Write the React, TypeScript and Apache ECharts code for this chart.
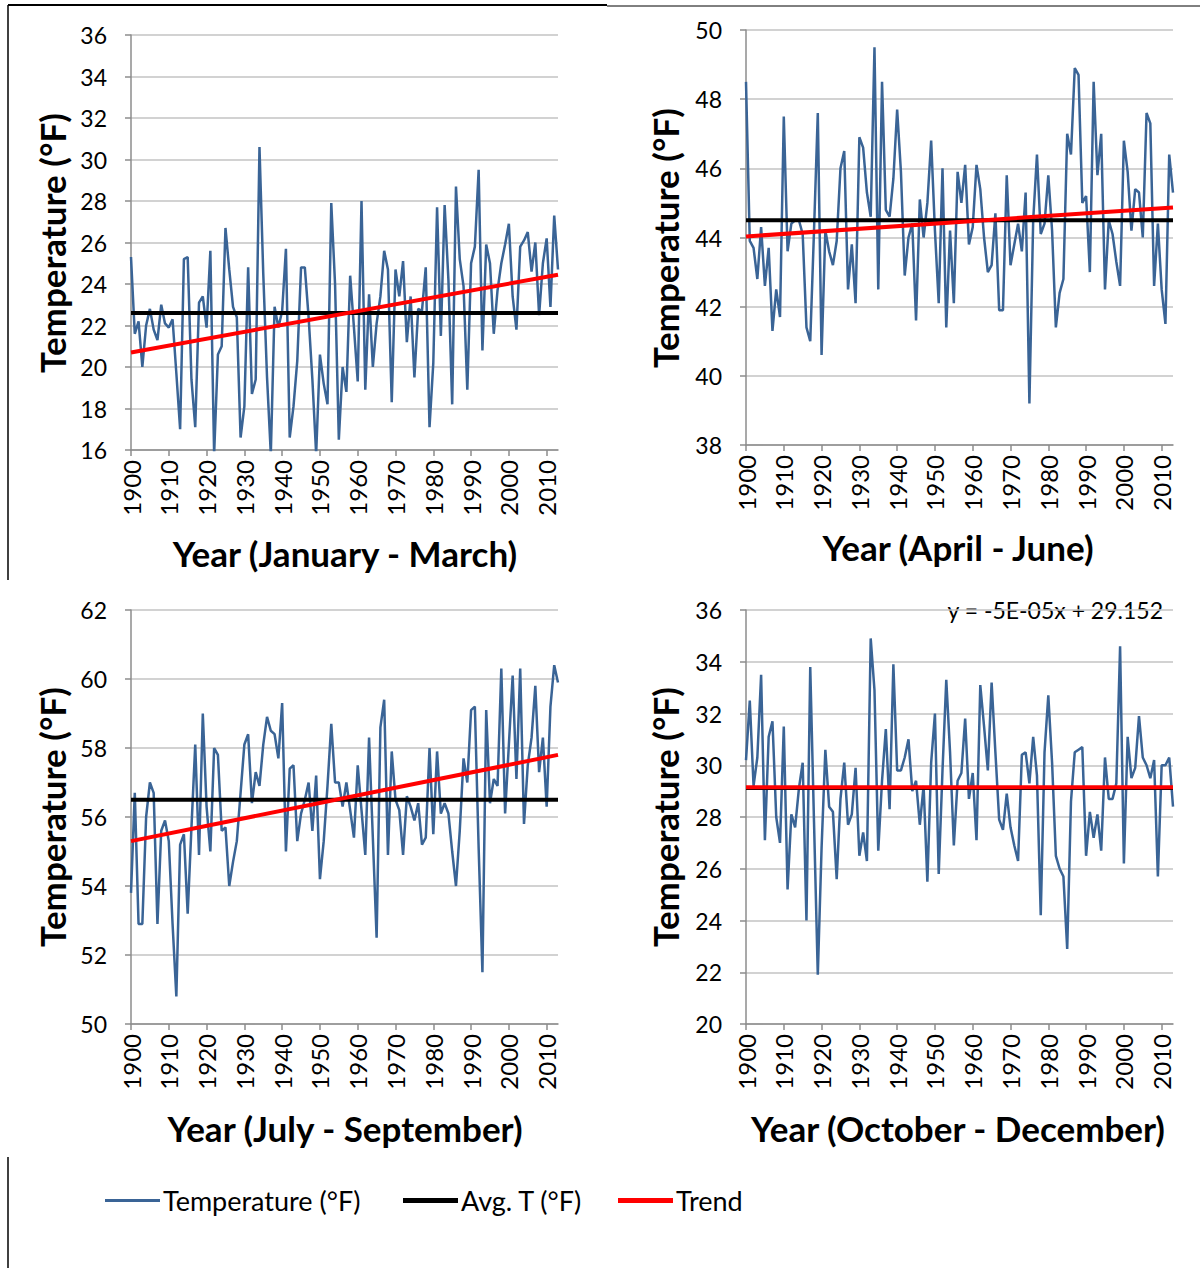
import React, { useEffect, useRef } from "react";
import * as echarts from "echarts";

const years: string[] = Array.from({ length: 114 }, (_, i) => String(1900 + i));

const janMar = [
  25.3, 21.6, 22.2, 20.0, 22.0, 22.8, 21.8, 21.3, 23.0, 22.1,
  21.9, 22.3, 19.7, 17.0, 25.2, 25.3, 19.4, 17.1, 23.1, 23.4,
  21.9, 25.6, 15.8, 20.6, 21.0, 26.7, 24.7, 22.9, 22.4, 16.6,
  18.1, 24.8, 18.7, 19.4, 30.6, 24.5, 19.5, 15.8, 22.9, 21.9,
  22.7, 25.7, 16.6, 18.1, 20.3, 24.8, 24.8, 22.4, 19.4, 15.8,
  20.6, 19.2, 18.2, 27.9, 24.0, 16.5, 20.0, 18.8, 24.4, 21.9,
  19.3, 28.0, 18.9, 23.5, 20.0, 22.1, 23.4, 25.6, 24.7, 18.3,
  24.7, 23.4, 25.1, 21.2, 23.4, 19.5, 22.8, 22.7, 24.8, 17.1,
  20.2, 27.7, 21.5, 27.8, 24.2, 18.2, 28.7, 25.2, 23.9, 18.9,
  25.0, 25.8, 29.5, 20.8, 25.9, 25.0, 21.6, 23.7, 25.0, 25.9,
  26.9, 23.4, 21.8, 25.8, 26.1, 26.5, 24.6, 26.0, 22.5, 25.0,
  26.2, 22.9, 27.3, 24.7,
];

const aprJun = [
  48.5, 43.9, 43.7, 42.8, 44.3, 42.6, 43.7, 41.3, 42.5, 41.7,
  47.5, 43.6, 44.4, 44.5, 44.5, 44.1, 41.4, 41.0, 44.2, 47.6,
  40.6, 44.2, 43.6, 43.2, 43.9, 46.0, 46.5, 42.5, 43.8, 42.1,
  46.9, 46.6, 45.3, 44.6, 49.5, 42.5, 48.5, 44.8, 44.6, 45.7,
  47.7, 45.9, 42.9, 44.0, 44.4, 41.6, 45.1, 44.0, 45.0, 46.8,
  44.2, 42.1, 46.0, 41.4, 44.2, 42.1, 45.9, 45.0, 46.1, 43.8,
  44.3, 46.1, 45.4, 44.0, 43.0, 43.2, 44.7, 41.9, 41.9, 45.8,
  43.2, 43.8, 44.4, 43.6, 45.3, 39.2, 44.5, 46.4, 44.1, 44.4,
  45.8, 44.2, 41.4, 42.4, 42.8, 47.0, 46.4, 48.9, 48.7, 45.0,
  45.2, 43.0, 48.5, 45.8, 47.0, 42.5, 44.5, 44.1, 43.3, 42.6,
  46.8, 45.9, 44.2, 45.4, 45.3, 44.0, 47.6, 47.3, 42.6, 44.4,
  42.5, 41.5, 46.4, 45.3,
];

const julSep = [
  53.8, 56.7, 52.9, 52.9, 56.0, 57.0, 56.7, 52.9, 55.6, 55.9,
  55.3, 52.9, 50.8, 55.2, 55.5, 53.2, 55.7, 58.1, 54.9, 59.0,
  56.3, 55.0, 58.0, 57.8, 55.6, 55.7, 54.0, 54.7, 55.3, 56.7,
  58.1, 58.4, 56.4, 57.3, 56.9, 58.1, 58.9, 58.5, 58.4, 57.7,
  59.3, 55.0, 57.4, 57.5, 55.3, 56.1, 56.5, 57.0, 55.6, 57.2,
  54.2, 55.3, 56.9, 58.7, 57.0, 57.0, 56.3, 57.0, 56.2, 55.4,
  57.5, 56.2, 54.9, 58.3, 55.4, 52.5, 58.6, 59.4, 54.9, 57.9,
  56.5, 56.2, 54.9, 56.6, 56.3, 55.9, 56.4, 55.2, 55.4, 58.0,
  55.5, 57.9, 56.1, 56.4, 56.1, 55.0, 54.0, 55.6, 57.7, 57.0,
  59.1, 59.2, 55.1, 51.5, 59.1, 56.4, 57.1, 56.9, 60.3, 56.1,
  58.1, 60.1, 57.1, 60.3, 55.8, 57.5, 58.3, 59.8, 57.3, 58.3,
  56.3, 59.2, 60.4, 59.9,
];

const octDec = [
  30.2, 32.5, 29.2, 30.3, 33.5, 27.1, 31.1, 31.7, 28.0, 27.0,
  31.5, 25.2, 28.1, 27.6, 29.1, 30.1, 24.0, 33.8, 27.8, 21.9,
  26.8, 30.6, 28.4, 28.2, 25.6, 28.7, 30.1, 27.7, 28.1, 29.9,
  26.5, 27.4, 26.3, 34.9, 32.9, 26.7, 29.4, 31.4, 28.3, 33.9,
  29.8, 29.8, 30.3, 31.0, 29.0, 29.4, 27.7, 29.2, 25.5, 30.1,
  32.0, 25.8, 29.8, 33.3, 30.5, 26.9, 29.4, 29.7, 31.8, 28.7,
  29.7, 27.1, 33.1, 31.5, 29.8, 33.2, 30.5, 27.9, 27.5, 28.9,
  27.6, 26.9, 26.3, 30.4, 30.5, 29.3, 31.1, 29.6, 24.2, 30.5,
  32.7, 30.1, 26.5, 26.0, 25.7, 22.9, 28.6, 30.5, 30.6, 30.7,
  26.5, 28.2, 27.2, 28.1, 26.7, 30.3, 28.7, 28.7, 29.3, 34.6,
  26.2, 31.1, 29.5, 29.9, 31.9, 30.3, 30.0, 29.5, 30.2, 25.7,
  30.0, 30.0, 30.3, 28.4,
];

const seasonData = [janMar, aprJun, julSep, octDec];
const avgValues = [22.6, 44.5, 56.5, 29.12];
const trendStart = [20.7, 44.03, 55.3, 29.152];
const trendEnd = [24.45, 44.87, 57.8, 29.146];
const yMins = [16, 38, 50, 20];
const yMaxs = [36, 50, 62, 36];
const xTitles = [
  "Year (January - March)",
  "Year (April - June)",
  "Year (July - September)",
  "Year (October - December)",
];
const yTitle = "Temperature (°F)";
const equationText = "y = -5E-05x + 29.152";
const seriesNames = ["Temperature (°F)", "Avg. T (°F)", "Trend"];

const FONT = "Lato, 'Noto Sans', sans-serif";
const grids = [
  { left: 131, top: 35, width: 427, height: 415 },
  { left: 746, top: 30, width: 427, height: 415 },
  { left: 131, top: 610, width: 427, height: 414 },
  { left: 746, top: 610, width: 427, height: 414 },
];
const yTitlePos = [
  [52, 243],
  [665, 238],
  [52, 817],
  [665, 817],
];
const xTitlePos = [
  [345, 553],
  [958, 547],
  [345, 1128],
  [958, 1128],
];
const legendLefts = [105, 403, 618];
const legendHeights = [3, 5, 5];

export default function App() {
  const ref = useRef<HTMLDivElement>(null);
  useEffect(() => {
    if (!ref.current) return;
    const chart = echarts.init(ref.current, undefined, { renderer: "svg" });
    const xAxis: any[] = [];
    const yAxis: any[] = [];
    const series: any[] = [];
    const graphic: any[] = [];
    for (let k = 0; k < 4; k++) {
      xAxis.push({
        type: "category",
        gridIndex: k,
        data: years,
        boundaryGap: false,
        axisLine: { show: true, lineStyle: { color: "#8c8c8c", width: 1.5 } },
        axisTick: { show: true, interval: 9, length: 6, lineStyle: { color: "#8c8c8c", width: 1.5 } },
        axisLabel: {
          interval: 9,
          rotate: 90,
          margin: 10,
          fontSize: 24,
          fontFamily: FONT,
          color: "#000",
        },
        splitLine: { show: false },
      });
      yAxis.push({
        type: "value",
        gridIndex: k,
        min: yMins[k],
        max: yMaxs[k],
        interval: 2,
        axisLine: { show: true, lineStyle: { color: "#8c8c8c", width: 1.5 } },
        axisTick: { show: true, length: 6, lineStyle: { color: "#8c8c8c", width: 1.5 } },
        axisLabel: { margin: 24, fontSize: 23, fontFamily: FONT, color: "#000" },
        splitLine: { show: true, lineStyle: { color: "#c3c3c3", width: 1.5 } },
      });
      series.push({
        name: seriesNames[0],
        type: "line",
        xAxisIndex: k,
        yAxisIndex: k,
        data: seasonData[k],
        showSymbol: false,
        symbol: "none",
        lineStyle: { color: "#3a6496", width: 2.5 },
        itemStyle: { color: "#3a6496" },
        z: 2,
      });
      series.push({
        name: seriesNames[1],
        type: "line",
        xAxisIndex: k,
        yAxisIndex: k,
        data: [
          [years[0], avgValues[k]],
          [years[years.length - 1], avgValues[k]],
        ],
        showSymbol: false,
        symbol: "none",
        lineStyle: { color: "#000", width: 4 },
        itemStyle: { color: "#000" },
        z: 3,
      });
      series.push({
        name: seriesNames[2],
        type: "line",
        xAxisIndex: k,
        yAxisIndex: k,
        data: [
          [years[0], trendStart[k]],
          [years[years.length - 1], trendEnd[k]],
        ],
        showSymbol: false,
        symbol: "none",
        lineStyle: { color: "#ff0000", width: 4 },
        itemStyle: { color: "#ff0000" },
        z: 4,
      });
      graphic.push({
        type: "text",
        x: yTitlePos[k][0],
        y: yTitlePos[k][1],
        rotation: Math.PI / 2,
        style: {
          text: yTitle,
          font: `bold 35px ${FONT}`,
          fill: "#000",
          textAlign: "center",
          textVerticalAlign: "middle",
        },
      });
      graphic.push({
        type: "text",
        x: xTitlePos[k][0],
        y: xTitlePos[k][1],
        style: {
          text: xTitles[k],
          font: `bold 35px ${FONT}`,
          fill: "#000",
          textAlign: "center",
          textVerticalAlign: "middle",
        },
      });
    }
    graphic.push({
      type: "text",
      x: 1163,
      y: 610,
      style: {
        text: equationText,
        font: `23px ${FONT}`,
        fill: "#000",
        textAlign: "right",
        textVerticalAlign: "middle",
      },
    });
    graphic.push(
      { type: "line", shape: { x1: 8, y1: 5, x2: 607, y2: 5 }, style: { stroke: "#000", lineWidth: 2 } },
      { type: "line", shape: { x1: 607, y1: 6, x2: 1200, y2: 6 }, style: { stroke: "#000", lineWidth: 1 } },
      { type: "line", shape: { x1: 8, y1: 5, x2: 8, y2: 580 }, style: { stroke: "#000", lineWidth: 1.5 } },
      { type: "line", shape: { x1: 8, y1: 1157, x2: 8, y2: 1268 }, style: { stroke: "#000", lineWidth: 1.5 } }
    );

    const legend = seriesNames.map((name, i) => ({
      data: [{ name, icon: "rect" }],
      left: legendLefts[i],
      top: 1203 - 16,
      height: 32,
      itemWidth: 55,
      itemHeight: legendHeights[i],
      selectedMode: false,
      padding: 0,
      textStyle: { fontSize: 27, fontFamily: FONT, color: "#000", padding: [0, 0, 0, -2] },
    }));

    chart.setOption({
      animation: false,
      backgroundColor: "#fff",
      grid: grids.map((g) => ({ ...g, containLabel: false })),
      xAxis,
      yAxis,
      series,
      graphic,
      legend,
    });
    return () => chart.dispose();
  }, []);
  return (
    <div
      ref={ref}
      style={{ position: "absolute", left: 0, top: 0, width: 1200, height: 1273 }}
    />
  );
}
